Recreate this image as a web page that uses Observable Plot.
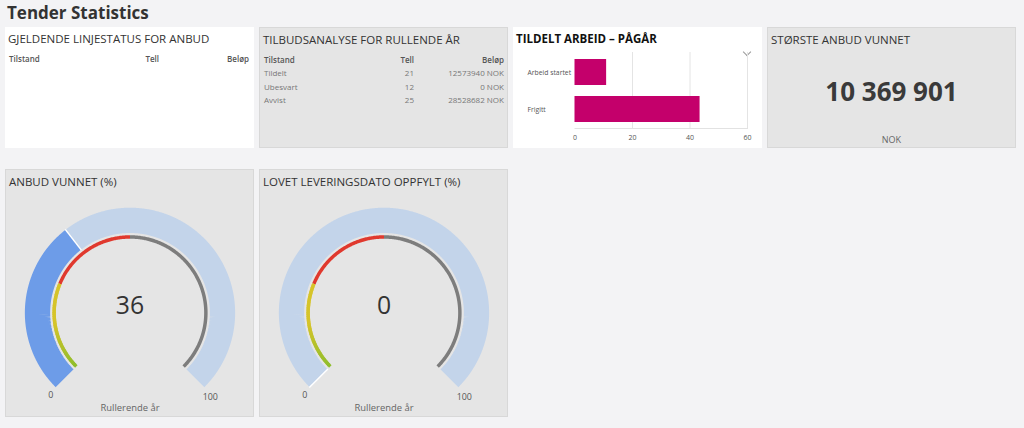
<!DOCTYPE html>
<html><head><meta charset="utf-8">
<script src="https://cdn.jsdelivr.net/npm/d3@7"></script>
<script src="https://cdn.jsdelivr.net/npm/@observablehq/plot@0.6"></script>
<style>
html,body{margin:0;padding:0}
body{background:#f3f3f5;font-family:"Open Sans",sans-serif;width:1024px;height:428px;overflow:hidden;position:relative}
h1{position:absolute;left:7px;top:1px;margin:0;font-size:17px;font-weight:700;color:#333;line-height:24px;white-space:nowrap}
.panel{position:absolute;box-sizing:border-box;overflow:hidden}
.grey{background:#e5e5e5;border:1px solid #d8d8d8}
.white{background:#fff}
.ptitle{position:absolute;left:3px;top:4px;font-size:11.5px;color:#333;white-space:nowrap;line-height:16px;z-index:2}
.bold{font-weight:700;color:#111}
table{position:absolute;left:4px;top:24px;width:240px;border-collapse:collapse;table-layout:fixed;font-size:8px}
th{font-weight:600;color:#555;text-align:left;height:14px;padding:0}
td{color:#777;height:13.5px;padding:0}
.r{text-align:right}
.big{position:absolute;left:0;width:100%;top:46px;text-align:center;font-size:26px;font-weight:700;color:#3a3a3a;line-height:34px}
.unit{position:absolute;left:0;width:100%;top:105px;text-align:center;font-size:9px;color:#666}
.chev{position:absolute;left:231px;top:22px;width:5px;height:5px;border-right:1px solid #999;border-bottom:1px solid #999;transform:rotate(45deg)}
.panel svg{position:absolute;left:0;top:0}
</style></head>
<body>
<h1 id="title"></h1>
<script>
// ---------- data ----------
const pageTitle = "Tender Statistics";
const panelTitles = ["GJELDENDE LINJESTATUS FOR ANBUD", "TILBUDSANALYSE FOR RULLENDE ÅR", "TILDELT ARBEID – PÅGÅR", "STØRSTE ANBUD VUNNET"];
const tableHeaders = ["Tilstand", "Tell", "Beløp"];
const lineStatusRows = [];
const offerStates = ["Tildelt", "Ubesvart", "Avvist"];
const offerCounts = [21, 12, 25];
const offerAmounts = [12573940, 0, 28528682];
const currency = "NOK";
const workCategories = ["Arbeid startet", "Frigitt"];
const workValues = [11, 43.5];
const workTicks = [0, 20, 40, 60];
const largestWon = 10369901;
const gaugeTitles = ["ANBUD VUNNET (%)", "LOVET LEVERINGSDATO OPPFYLT (%)"];
const gaugeValues = [36, 0];
const gaugeMin = 0, gaugeMax = 100;
const gaugeCaption = "Rullerende år";
const thresholdStops = [0, 25, 50, 100]; // green→yellow, red, grey

// ---------- layout ----------
document.getElementById("title").textContent = pageTitle;
function panel(left, top, w, h, cls) {
  const d = document.createElement("div");
  d.className = "panel " + cls;
  Object.assign(d.style, {left: left + "px", top: top + "px", width: w + "px", height: h + "px"});
  document.body.appendChild(d);
  return d;
}
function addTitle(p, text, bold) {
  const t = document.createElement("div");
  t.className = "ptitle" + (bold ? " bold" : "");
  t.textContent = text;
  p.appendChild(t);
}
function makeTable(p, rows) {
  const tb = document.createElement("table");
  let html = '<colgroup><col style="width:121px"><col style="width:29px"><col style="width:90px"></colgroup>';
  html += `<tr><th>${tableHeaders[0]}</th><th class="r">${tableHeaders[1]}</th><th class="r">${tableHeaders[2]}</th></tr>`;
  rows.forEach(r => { html += `<tr><td>${r[0]}</td><td class="r">${r[1]}</td><td class="r">${r[2]} ${currency}</td></tr>`; });
  tb.innerHTML = html;
  p.appendChild(tb);
}

const p1 = panel(5, 27, 249, 121, "white");
addTitle(p1, panelTitles[0]);
makeTable(p1, lineStatusRows);

const p2 = panel(259, 27, 249, 121, "grey");
addTitle(p2, panelTitles[1]);
makeTable(p2, offerStates.map((s, i) => [s, offerCounts[i], offerAmounts[i]]));

const p3 = panel(513, 27, 249, 121, "white");
addTitle(p3, panelTitles[2], true);
const chev = document.createElement("div"); chev.className = "chev"; p3.appendChild(chev);
const workData = workCategories.map((c, i) => ({cat: c, value: workValues[i]}));
const bar = Plot.plot({
  width: 249, height: 101,
  marginLeft: 61.5, marginRight: 15, marginTop: 5, marginBottom: 20,
  style: {fontFamily: "Open Sans", fontSize: "7px", color: "#555", background: "transparent"},
  x: {domain: [0, 60], label: null},
  y: {domain: workCategories, paddingInner: 0.3, paddingOuter: 0.166, label: null},
  marks: [
    Plot.gridX(workTicks.slice(1), {stroke: "#e4e4e4", strokeOpacity: 1}),
    Plot.frame({anchor: "bottom", stroke: "#e2e2e2"}),
    Plot.barX(workData, {x: "value", y: "cat", fill: "#c4006b"}),
    Plot.axisX({ticks: workTicks, tickSize: 0, tickPadding: 7, label: null}),
    Plot.axisY({tickSize: 0, tickPadding: 47.5, textAnchor: "start", fontSize: 6.8, label: null})
  ]
});
bar.style.top = "20px";
p3.appendChild(bar);

const p4 = panel(767, 27, 249, 121, "grey");
addTitle(p4, panelTitles[3]);
const big = document.createElement("div"); big.className = "big";
big.textContent = d3.format(",")(largestWon).replace(/,/g, " ");
p4.appendChild(big);
const unit = document.createElement("div"); unit.className = "unit"; unit.textContent = currency; p4.appendChild(unit);

// ---------- gauges ----------
function gauge(value) {
  const W = 249, H = 248, cx = 124.5, cy = 143.5;
  const a0 = -135, a1 = 135;
  const rOut = 106, rIn = 80.5, rMid = (rOut + rIn) / 2, rLine = 76.5;
  const ang = v => (a0 + (v - gaugeMin) / (gaugeMax - gaugeMin) * (a1 - a0)) * Math.PI / 180;
  const pt = (v, r) => ({x: cx + r * Math.sin(ang(v)), y: cy - r * Math.cos(ang(v))});
  const arc = (v0, v1, r) => v1 > v0 ? d3.range(v0, v1, 0.25).concat([v1]).map(v => pt(v, r)) : [];
  const green = d3.interpolateRgb("#8dbd2b", "#d6c42a");
  const gradColor = v => green(Math.min(1, (v - thresholdStops[0]) / ((thresholdStops[1] - thresholdStops[0]) * 0.55)));
  const segs = d3.range(thresholdStops[0], thresholdStops[1], 0.5).map(v => {
    const a = pt(v, rLine), b = pt(Math.min(v + 0.9, thresholdStops[1]), rLine);
    return {x1: a.x, y1: a.y, x2: b.x, y2: b.y, c: gradColor(v + 0.25)};
  });
  const red = arc(thresholdStops[1], thresholdStops[2], rLine);
  const grey = arc(thresholdStops[2], thresholdStops[3], rLine);
  const sep = [{a: pt(value, rIn - 0.5), b: pt(value, rOut + 0.5)}];
  return Plot.plot({
    width: W, height: H, margin: 0,
    style: {fontFamily: "Open Sans", background: "transparent"},
    x: {domain: [0, W], range: [0, W], axis: null},
    y: {domain: [0, H], range: [0, H], axis: null},
    color: {type: "identity"},
    marks: [
      Plot.line(arc(gaugeMin, value, rMid), {x: "x", y: "y", stroke: "#6d9ce8", strokeWidth: rOut - rIn, strokeLinecap: "butt", strokeLinejoin: "miter"}),
      Plot.line(arc(value, gaugeMax, rMid), {x: "x", y: "y", stroke: "#c3d4ea", strokeWidth: rOut - rIn, strokeLinecap: "butt", strokeLinejoin: "miter"}),
      Plot.link(sep, {x1: d => d.a.x, y1: d => d.a.y, x2: d => d.b.x, y2: d => d.b.y, stroke: "#ffffff", strokeWidth: 1.5}),
      Plot.line(grey, {x: "x", y: "y", stroke: "#7d7d7d", strokeWidth: 3.5, strokeLinecap: "butt"}),
      Plot.line(red, {x: "x", y: "y", stroke: "#e0392e", strokeWidth: 3.5, strokeLinecap: "butt"}),
      Plot.link(segs, {x1: "x1", y1: "y1", x2: "x2", y2: "y2", stroke: "c", strokeWidth: 3.5, strokeLinecap: "butt"}),
      Plot.text([value], {x: cx, y: cy - 7, text: d => String(d), fontSize: 25, fill: "#333", textAnchor: "middle"}),
      Plot.text([gaugeMin], {x: d => pt(d, rOut).x - 5, y: d => pt(d, rOut).y + 8, text: d => String(d), fontSize: 9, fill: "#555"}),
      Plot.text([gaugeMax], {x: d => pt(d, rOut).x + 6, y: d => pt(d, rOut).y + 10, text: d => String(d), fontSize: 9, fill: "#555"}),
      Plot.text([gaugeCaption], {x: cx, y: 239.5, text: d => d, fontSize: 9.5, fill: "#666"})
    ]
  });
}
gaugeTitles.forEach((t, i) => {
  const p = panel(5 + i * 254, 169, 249, 248, "grey");
  p.appendChild(gauge(gaugeValues[i]));
  addTitle(p, t);
});
</script>
</body></html>
